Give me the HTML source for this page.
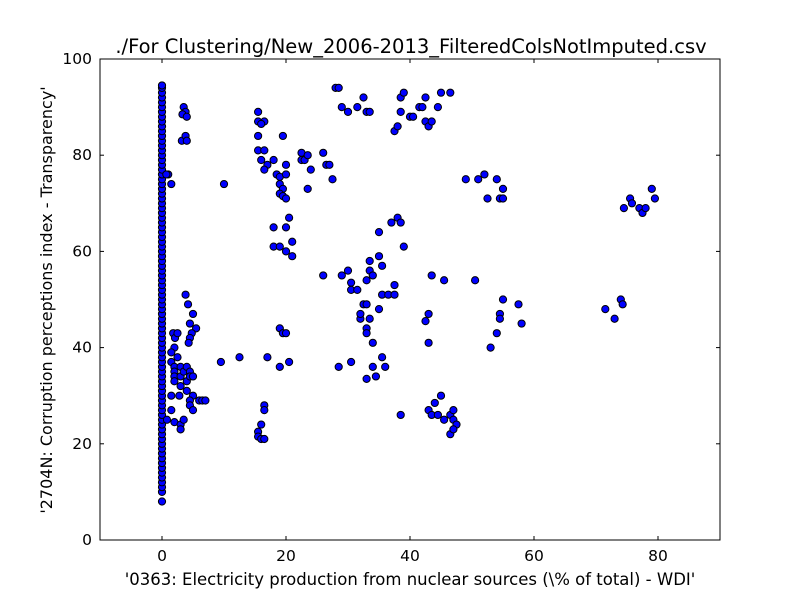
<!DOCTYPE html>
<html><head><meta charset="utf-8"><style>
html,body{margin:0;padding:0;background:#fff;}
svg{display:block;font-family:"DejaVu Sans","Liberation Sans",sans-serif;}
</style></head><body>
<svg id="chart" width="800" height="600">
<rect width="800" height="600" fill="#fff"/>
<text x="411" y="53" font-size="19.5" text-anchor="middle">./For Clustering/New_2006-2013_FilteredColsNotImputed.csv</text>
<g id="ticks"></g>
<g id="points"></g>
<rect x="100" y="59" width="620" height="481" fill="none" stroke="#000" stroke-width="1"/>
<text x="410" y="585" font-size="16.5" text-anchor="middle">'0363: Electricity production from nuclear sources  (\% of total) - WDI'</text>
<text transform="translate(52,300) rotate(-90)" font-size="16" text-anchor="middle">'2704N: Corruption perceptions index - Transparency'</text>
</svg>
<script>
const xTicks=[0,20,40,60,80];
const yTicks=[0,20,40,60,80,100];
const zeroY=[8,10,11,12,13,14,15,16,17,18,19,20,21,22,23,24,25,26,27,28,29,30,31,32,33,34,35,36,37,38,39,40,41,42,43,44,45,46,47,48,49,50,51,52,53,54,55,56,57,58,59,60,61,62,63,64,65,66,67,68,69,70,71,72,73,74,75,76,77,78,79,80,81,82,83,84,85,86,87,88,89,90,91,92,93,94,94.5];
const ptX=[3.5,3.8,3.3,4,3.2,3.8,4,1,1.5,0.7,3.8,4.2,5,4.5,5.5,4.8,4.5,4.3,1.8,2.1,2.5,2,1.5,1.5,2,2.5,2,2,3,3,3.5,4,4.5,4,4.5,5,3,2,1.5,2.8,4,5,4.5,6,6.5,7,4.5,5,1.5,2,3,3.5,3,0.8,9.5,12.5,10,17,20.5,19,
15.5,15.5,16.5,16,15.5,15.5,16.5,16,17,16.5,18,18.5,19,19,19.5,19,19.5,20,19.5,20,20,20.5,18,20,21,18,19,20,21,22.5,22.5,23,23.5,24,23.5,26,26.5,27,27.5,19,19.5,20,16.5,16.5,16,15.5,15.5,16,16.5,26,
28,28.5,29,30,31.5,32.5,33,33.5,37.5,38,38.5,39,38.5,40,40.5,41.5,42,42.5,43,43.5,42.5,44.5,45,46.5,
29,30,30.5,30.5,31.5,32.5,33,33,33.5,33.5,34,35,35,35.5,35.5,36.5,37.5,37,38,38.5,37.5,39,32,33,33,34,34,34.5,33,35.5,36,28.5,30.5,32,33.5,35,
43,42.5,43,43.5,45.5,38.5,44,45,43,43.5,44.5,45.5,46.5,47,47,47.5,46.5,47,
49,51,52,52.5,54,54.5,55,55,50.5,55,54.5,54.5,54,53,57.5,58,71.5,73,74,74.3,74.5,75.5,75.8,77,77.5,78,79,79.5];
const ptY=[90,89,88.5,88,83,84,83,76,74,76,51,49,47,45,44,43,42,41,43,42,43,40,39,37,36,38,35,34,36,34,35,36,35,33,34,34,32,33,30,30,31,30,29,29,29,29,28,27,27,24.5,24,25,23,25,37,38,74,38,37,36,
89,87,87,86.5,84,81,81,79,78,77,79,76,75.5,74,73,72,71.5,71,84,78,76,67,65,65,62,61,61,60,59,80.5,79,79,80,77,73,80.5,78,78,75,44,43,43,28,27,24,22.5,21.5,21,21,55,
94,94,90,89,90,92,89,89,85,86,92,93,89,88,88,90,90,87,86,87,92,90,93,93,
55,56,53.5,52,52,49,49,54,56,58,55,59,64,57,51,51,51,66,67,66,53,61,46,44,43,41,36,34,33.5,38,36,36,37,47,46,48,
47,45.5,41,55,54,26,28.5,30,27,26,26,25,26,27,25,24,22,23,
75,75,76,71,75,71,73,71,54,50,47,46,43,40,49,45,48,46,50,49,69,71,70,69,68,69,73,71];
const NS="http://www.w3.org/2000/svg";
const X0=100,X1=720,Y0=540,Y1=59,xmin=-10,xmax=90,ymin=0,ymax=100;
function sx(v){return X0+(v-xmin)/(xmax-xmin)*(X1-X0);}
function sy(v){return Y0-(v-ymin)/(ymax-ymin)*(Y0-Y1);}
const tg=document.getElementById('ticks');
function mk(tag,attrs,parent){const e=document.createElementNS(NS,tag);for(const k in attrs)e.setAttribute(k,attrs[k]);parent.appendChild(e);return e;}
xTicks.forEach(t=>{
  const x=sx(t);
  const a=mk('line',{x1:x,x2:x,y1:Y0,y2:Y0-4,stroke:'#000'},tg);
  
  
  const b=mk('line',{x1:x,x2:x,y1:Y1,y2:Y1+4,stroke:'#000'},tg);
  
  
  const l=mk('text',{x:x,y:Y0+21,'font-size':15.5,'text-anchor':'middle'},tg);
  l.textContent=t;
  
  
});
yTicks.forEach(t=>{
  const y=sy(t);
  const a=mk('line',{x1:X0,x2:X0+4,y1:y,y2:y,stroke:'#000'},tg);
  
  
  const b=mk('line',{x1:X1,x2:X1-4,y1:y,y2:y,stroke:'#000'},tg);
  
  
  const l=mk('text',{x:X0-8,y:y+5,'font-size':15.5,'text-anchor':'end'},tg);
  l.textContent=t;
  
  
});
const pg=document.getElementById('points');
function dot(x,y){
  const c=mk('circle',{cx:sx(x),cy:sy(y),r:3.6,fill:'#0000ff',stroke:'#000','stroke-width':1},pg);
  
  
}
zeroY.forEach(y=>dot(0,y));
ptX.forEach((x,i)=>dot(x,ptY[i]));
</script>
</body></html>
